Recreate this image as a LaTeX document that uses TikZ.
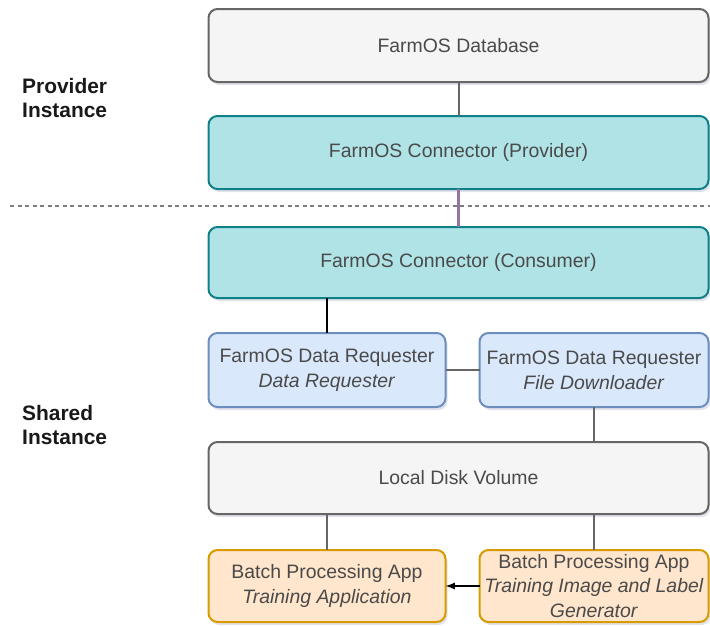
\documentclass[tikz,border=0pt]{standalone}
\usepackage{fontspec}
\setmainfont{Liberation Sans}
\usetikzlibrary{arrows,shapes,positioning,shadows}
\definecolor{storefill}{HTML}{F5F5F5}
\definecolor{storeline}{HTML}{666666}
\definecolor{linkfill}{HTML}{B0E3E6}
\definecolor{linkline}{HTML}{0E8088}
\definecolor{reqfill}{HTML}{DAE8FC}
\definecolor{reqline}{HTML}{6C8EBF}
\definecolor{batchfill}{HTML}{FFE6CC}
\definecolor{batchline}{HTML}{D79B00}
\definecolor{boxtext}{HTML}{4A4A4A}
\definecolor{pipeline}{HTML}{9673A6}
\definecolor{shadowc}{HTML}{8A8AAA}
\tikzset{
    raw box entry/.style={rectangle, rounded corners=9bp, line width=2bp, align=center,
        inner sep=0pt, outer sep=0pt, text=boxtext, font=\fontsize{19.5}{25}\selectfont,
        drop shadow={shadow xshift=2bp, shadow yshift=-3bp, opacity=0.25, fill=shadowc}},
    wide entry/.style={minimum width=500bp, minimum height=73bp},
    left entry/.style={minimum width=237bp, minimum height=74bp},
    right entry/.style={minimum width=229bp, minimum height=74bp},
    store entry/.style={raw box entry, draw=storeline, fill=storefill},
    link entry/.style={raw box entry, draw=linkline, fill=linkfill},
    request entry/.style={raw box entry, draw=reqline, fill=reqfill},
    batch entry/.style={raw box entry, draw=batchline, fill=batchfill},
    side label/.style={anchor=west, align=left, inner sep=0pt, text=black!90,
        font=\bfseries\fontsize{21}{24}\selectfont},
    plain link/.style={draw=storeline, line width=2bp},
    strong link/.style={draw=black, line width=2.6bp}
}
\begin{document}
\begin{tikzpicture}[>=latex]
    \useasboundingbox (0,0) rectangle (710bp,-626bp);
    % instance labels
    \node[side label] (provlabel) at (22bp,-98bp) {Provider\\Instance};
    \node[side label] (sharelabel) at (22bp,-425bp) {Shared\\Instance};
    % provider side
    \node[store entry, wide entry] (db) at (458.5bp,-45.5bp) {FarmOS Database};
    \node[link entry, wide entry, below=34bp of db] (prov) {FarmOS Connector (Provider)};
    % boundary between instances
    \coordinate (cutl) at (10bp,-206bp);
    \coordinate (cutr) at (710bp,-206bp);
    \draw[draw=storeline!85, line width=2.2bp, dash pattern=on 4bp off 3.5bp] (cutl) -- (cutr);
    % shared side
    \node[link entry, wide entry, minimum height=71bp, below=38bp of prov] (cons) {FarmOS Connector (Consumer)};
    \node[request entry, left entry, below right=35bp and 0bp of cons.south west] (dreq)
        {FarmOS Data Requester\\\textit{Data Requester}};
    \node[request entry, right entry, right=34bp of dreq] (dfile)
        {FarmOS Data Requester\\\textit{File Downloader}};
    \node[store entry, wide entry, minimum height=72bp, below right=35bp and 0bp of dreq.south west] (disk)
        {Local Disk Volume};
    \node[batch entry, left entry, minimum height=72bp, below right=36bp and 0bp of disk.south west] (train)
        {Batch Processing App\\\textit{Training Application}};
    \node[batch entry, right entry, minimum height=72bp, right=34bp of train] (gen)
        {Batch Processing App\\\textit{Training Image and Label}\\\textit{Generator}};
    % connectors
    \draw[plain link] (db) -- (prov);
    \draw[draw=pipeline, line width=2.6bp] (prov) -- (cons);
    \draw[strong link] (dreq.north) -- (dreq.north |- cons.south);
    \draw[plain link] (dreq) -- (dfile);
    \draw[plain link] (dfile.south) -- (dfile.south |- disk.north);
    \draw[plain link] (train.north) -- (train.north |- disk.south);
    \draw[plain link] (gen.north) -- (gen.north |- disk.south);
    \draw[->, draw=black, line width=2.2bp] (gen) -- (train);
\end{tikzpicture}
\end{document}
